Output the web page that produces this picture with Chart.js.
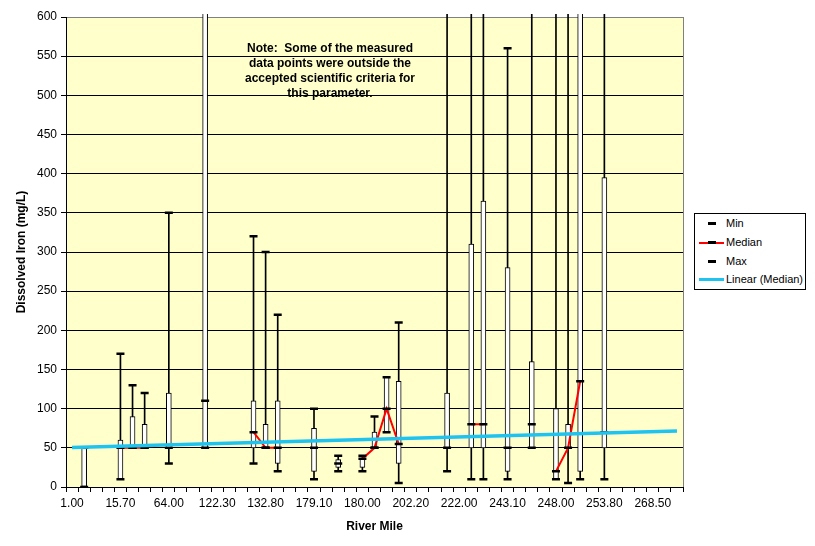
<!DOCTYPE html>
<html>
<head>
<meta charset="utf-8">
<script src="https://cdn.jsdelivr.net/npm/chart.js@4.4.0/dist/chart.umd.min.js"></script>
<style>
body { margin: 0; background: #fff; }
#wrap { position: relative; width: 815px; height: 546px; }
#legend { position: absolute; left: 694px; top: 213px; width: 110px; height: 75px; border: 1px solid #000; background: #fff;
  font: 11px "Liberation Sans", Arial, sans-serif; color: #000; }
.row { position: absolute; left: 0; width: 110px; height: 19px; line-height: 19px; }
.row span.t { position: absolute; left: 31px; top: 0; white-space: nowrap; }
.sym { position: absolute; }
</style>
</head>
<body>
<div id="wrap">
  <canvas id="iron" width="815" height="546"></canvas>
  <div id="legend">
    <div class="row" style="top:0px"><div class="sym" style="left:13px;top:8px;width:8px;height:3px;background:#000"></div><span class="t">Min</span></div>
    <div class="row" style="top:19px"><div class="sym" style="left:4px;top:9px;width:25px;height:2px;background:#f00"></div><div class="sym" style="left:13px;top:8px;width:8px;height:3px;background:#000"></div><span class="t">Median</span></div>
    <div class="row" style="top:38px"><div class="sym" style="left:13px;top:8px;width:8px;height:3px;background:#000"></div><span class="t">Max</span></div>
    <div class="row" style="top:56px"><div class="sym" style="left:4px;top:8px;width:25px;height:3px;background:#1EC3F0"></div><span class="t">Linear (Median)</span></div>
  </div>
</div>
<script>
// river mile categories (only every 4th label shown on the chart)
const riverMiles = [
  "1.00", "", "", "", "15.70", "", "", "", "64.00", "", "", "", "122.30", "", "", "", "132.80", "", "", "",
  "179.10", "", "", "", "180.00", "", "", "", "202.20", "", "", "", "222.00", "", "", "", "243.10", "", "", "",
  "248.00", "", "", "", "253.80", "", "", "", "268.50", "", ""
];
const _ = null;
// values above 600 run off the top of the chart
const minVals = [
  _, 0, _, _, 10, 50, 50, _, 30, _, _, 50, _, _, _, 30, 50, 20, _, _,
  10, _, 20, _, 20, 50, 70, 5, _, _, _, 20, _, 10, 10, _, 10, _, 50, _,
  10, 5, 10, _, 10, _, _, _, _, _, _
];
const q1Vals = [
  _, 0, _, _, 10, 50, 50, _, 50, _, _, 50, _, _, _, 50, 50, 30, _, _,
  20, _, 25, _, 25, 50, 70, 30, _, _, _, 50, _, 50, 50, _, 20, _, 50, _,
  10, 50, 20, _, 50, _, _, _, _, _, _
];
const medianVals = [
  _, 50, _, _, 50, 50, 50, _, 50, _, _, 110, _, _, _, 70, 50, 50, _, _,
  50, _, 30, _, 36, 50, 100, 55, _, _, _, 50, _, 80, 80, _, 50, _, 80, _,
  20, 50, 135, _, 70, _, _, _, _, _, _
];
const q3Vals = [
  _, 50, _, _, 60, 90, 80, _, 120, _, _, 900, _, _, _, 110, 80, 110, _, _,
  75, _, 35, _, 36, 70, 140, 135, _, _, _, 120, _, 310, 365, _, 280, _, 160, _,
  100, 80, 900, _, 395, _, _, _, _, _, _
];
const maxVals = [
  _, 50, _, _, 170, 130, 120, _, 350, _, _, 1000, _, _, _, 320, 300, 220, _, _,
  100, _, 40, _, 40, 90, 140, 210, _, _, _, 1000, _, 1000, 1000, _, 560, _, 1000, _,
  1000, 1000, 1000, _, 1000, _, _, _, _, _, _
];
// linear trendline of the median, read at both ends
const trendVals = riverMiles.map(() => null);
trendVals[0] = 50.5;
trendVals[50] = 71.5;

const boxData = q1Vals.map((v, i) => v === null ? null : [v, q3Vals[i]]);
const whiskerData = minVals.map((v, i) => v === null ? null : [v, maxVals[i]]);

Chart.defaults.font.family = '"Liberation Sans", Arial, sans-serif';
Chart.defaults.font.size = 12;
Chart.defaults.color = "#000";

const plotDeco = {
  id: "plotDeco",
  beforeDraw(chart) {
    const a = chart.chartArea, c = chart.ctx;
    c.save();
    c.fillStyle = "#FFFFCC";
    c.fillRect(a.left, a.top, a.right - a.left, a.bottom - a.top);
    c.restore();
  },
  afterDraw(chart) {
    const a = chart.chartArea, c = chart.ctx;
    c.save();
    c.strokeStyle = "#808080";
    c.lineWidth = 1;
    c.beginPath();
    c.moveTo(Math.round(a.right) + 0.5, a.top);
    c.lineTo(Math.round(a.right) + 0.5, a.bottom);
    c.stroke();
    c.fillStyle = "#000";
    c.font = 'bold 12px "Liberation Sans", Arial, sans-serif';
    c.textAlign = "center";
    const note = ["Note:  Some of the measured", "data points were outside the", "accepted scientific criteria for", "this parameter."];
    note.forEach((s, i) => c.fillText(s, 330, 52 + i * 15));
    c.restore();
  }
};

new Chart("iron", {
  type: "bar",
  data: {
    labels: riverMiles,
    datasets: [
      {
        type: "line",
        label: "Linear (Median)",
        data: trendVals,
        spanGaps: true,
        borderColor: "#1EC3F0",
        borderWidth: 3.5,
        pointRadius: 0,
        order: 0,
      },
      {
        type: "line",
        label: "Min",
        data: minVals,
        showLine: false,
        pointStyle: "line",
        pointRadius: 4,
        pointBorderWidth: 2.5,
        pointBorderColor: "#000",
        order: 1,
      },
      {
        type: "line",
        label: "Max",
        data: maxVals,
        showLine: false,
        pointStyle: "line",
        pointRadius: 4,
        pointBorderWidth: 2.5,
        pointBorderColor: "#000",
        order: 2,
      },
      {
        type: "line",
        label: "Median",
        data: medianVals,
        spanGaps: false,
        borderColor: "#FF0000",
        borderWidth: 2,
        pointStyle: "line",
        pointRadius: 4,
        pointBorderWidth: 2.5,
        pointBorderColor: "#000",
        order: 3,
      },
      {
        label: "Box",
        data: boxData,
        stack: "s",
        barThickness: 5,
        backgroundColor: "#fff",
        borderColor: "#000",
        borderWidth: 1,
        borderSkipped: false,
        clip: { left: 5, top: 3, right: 5, bottom: 0 },
        order: 4,
      },
      {
        label: "Range",
        data: whiskerData,
        stack: "s",
        barThickness: 1,
        backgroundColor: "#000",
        borderWidth: 0,
        clip: { left: 5, top: 3, right: 5, bottom: 0 },
        order: 5,
      },
    ],
  },
  options: {
    responsive: false,
    animation: false,
    layout: { padding: { left: 10, top: 17, right: 132, bottom: 10 } },
    plugins: { legend: { display: false }, tooltip: { enabled: false } },
    scales: {
      x: {
        stacked: true,
        offset: true,
        grid: { offset: true, drawOnChartArea: false, tickLength: 5, tickColor: "#000" },
        border: { color: "#000" },
        ticks: { autoSkip: false, maxRotation: 0, padding: 4, callback: (v, i) => riverMiles[i] },
        title: { display: true, text: "River Mile", font: { size: 12, weight: "bold" }, padding: { top: 4, bottom: 2 } },
        afterFit: (s) => { s.height = 49; },
      },
      y: {
        stacked: false,
        min: 0,
        max: 600,
        ticks: { stepSize: 50, padding: 4 },
        grid: { color: (c) => (c.tick && c.tick.value === 600 ? "#808080" : "#000"), tickLength: 5, tickColor: "#000" },
        border: { color: "#000" },
        title: { display: true, text: "Dissolved Iron (mg/L)", font: { size: 12, weight: "bold" }, padding: { top: 4, bottom: 4 } },
        afterFit: (s) => { s.width = 56; },
      },
    },
  },
  plugins: [plotDeco],
});
</script>
</body>
</html>
